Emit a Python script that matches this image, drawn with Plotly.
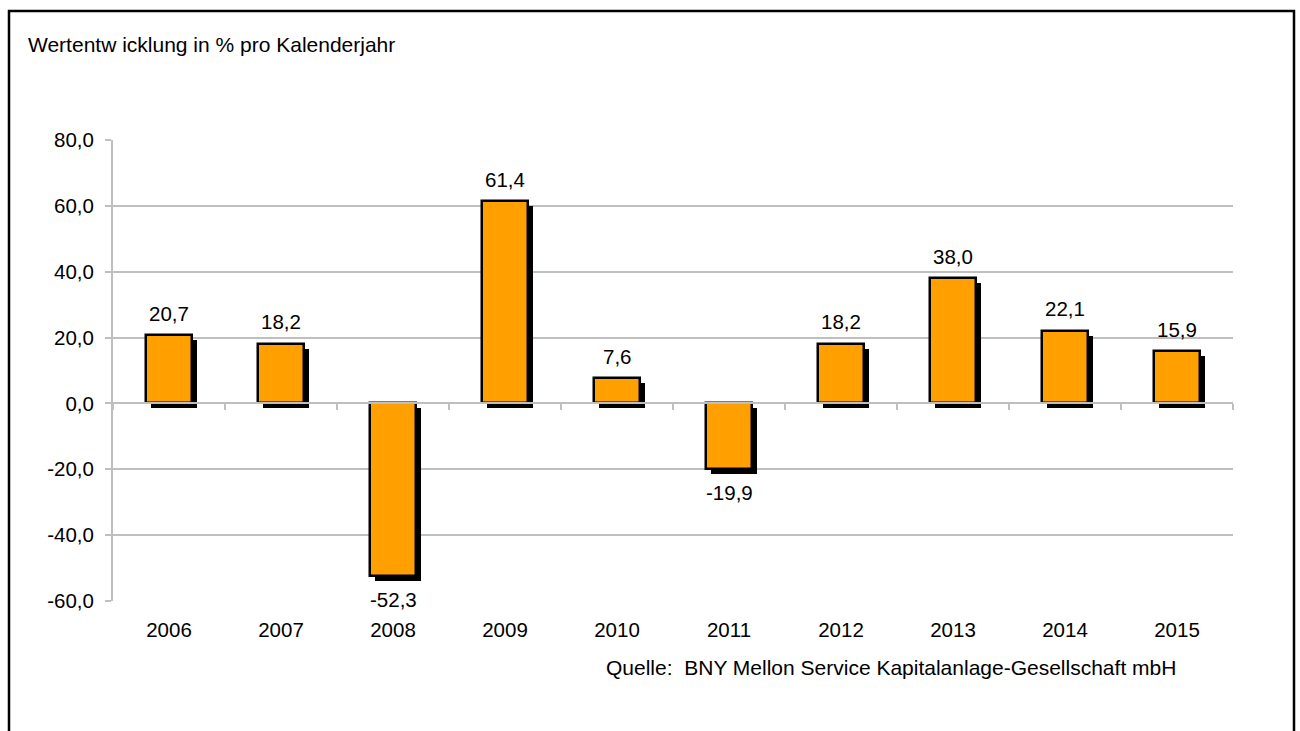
import plotly.graph_objects as go

years = ["2006", "2007", "2008", "2009", "2010", "2011", "2012", "2013", "2014", "2015"]
values = [20.7, 18.2, -52.3, 61.4, 7.6, -19.9, 18.2, 38.0, 22.1, 15.9]
y_ticks = [-60, -40, -20, 0, 20, 40, 60, 80]

title_text = "Wertentw icklung in % pro Kalenderjahr"
source_text = "Quelle:  BNY Mellon Service Kapitalanlage-Gesellschaft mbH"

W, H = 1300, 731
ML, MR, MT, MB = 113, 67, 140, 130
PW, PH = W - ML - MR, H - MT - MB
YMIN, YMAX = -60, 80

FONT = "Liberation Sans, Arial, sans-serif"
FS = 20.5
FS_TXT = 21
ORANGE = "#FF9F00"
GRID = "#BFBFBF"


def de(v):
    return f"{v:.1f}".replace(".", ",")


bar_w = 0.41
shadow_dx = 5 / PW * len(years)            # 5 px in category units
shadow_dy = 5 / PH * (YMAX - YMIN)         # 5 px in data units

fig = go.Figure()

# shadow
fig.add_trace(go.Bar(
    x=years, y=values, base=[-shadow_dy] * len(values),
    width=bar_w, offset=-bar_w / 2 + shadow_dx,
    marker=dict(color="#000000", line=dict(width=0)),
    hoverinfo="skip", showlegend=False,
))
# main bars
fig.add_trace(go.Bar(
    x=years, y=values,
    width=bar_w, offset=-bar_w / 2,
    marker=dict(color=ORANGE, line=dict(color="#000000", width=2.5)),
    showlegend=False,
))
# invisible trace for zero-line tick axis
fig.add_trace(go.Scatter(x=[-0.5, 9.5], y=[0, 0], xaxis="x2", mode="lines",
                         line=dict(width=0), hoverinfo="skip", showlegend=False))

annotations = []
for i, v in enumerate(values):
    annotations.append(dict(
        x=i, y=v, xref="x", yref="y",
        text=de(v),
        showarrow=False, yshift=22 if v >= 0 else -24,
        font=dict(family=FONT, size=FS, color="#000000"),
        xanchor="center", yanchor="middle",
    ))
annotations.append(dict(
    x=(1178 - ML) / PW, y=(H - MB - 667) / PH, xref="paper", yref="paper",
    text=source_text, showarrow=False, xanchor="right", yanchor="middle",
    font=dict(family=FONT, size=FS_TXT, color="#000000"),
))

fig.update_layout(
    width=W, height=H,
    margin=dict(l=ML, r=MR, t=MT, b=MB),
    paper_bgcolor="white", plot_bgcolor="white",
    barmode="overlay",
    bargap=0,
    title=dict(text=title_text, x=28 / W, y=1 - 45 / H, xref="container", yref="container",
               xanchor="left", yanchor="middle",
               font=dict(family=FONT, size=FS_TXT, color="#000000")),
    xaxis=dict(
        type="category", range=[-0.5, 9.5],
        showgrid=False, zeroline=False, showline=False, ticks="",
        tickfont=dict(family=FONT, size=FS, color="#000000"),
        ticklabelstandoff=14,
    ),
    xaxis2=dict(
        overlaying="x", anchor="free", position=(0 - YMIN) / (YMAX - YMIN),
        range=[-0.5, 9.5], showgrid=False, zeroline=False,
        showline=True, linecolor=GRID, linewidth=2,
        ticks="outside", ticklen=6, tickcolor=GRID, tickwidth=2,
        tickvals=[i - 0.5 for i in range(len(years) + 1)],
        showticklabels=False,
    ),
    yaxis=dict(
        range=[YMIN, YMAX], tickvals=y_ticks, ticktext=[de(t) for t in y_ticks],
        showgrid=True, gridcolor=GRID, gridwidth=2,
        zeroline=False,
        showline=True, linecolor=GRID, linewidth=2,
        ticks="outside", ticklen=6, tickcolor=GRID, tickwidth=2,
        tickfont=dict(family=FONT, size=FS, color="#000000"),
        ticklabelstandoff=7,
    ),
    annotations=annotations,
    shapes=[dict(
        type="rect", xref="paper", yref="paper",
        x0=(9 - ML) / PW, x1=(1294 - ML) / PW,
        y0=(H - MB - 760) / PH, y1=(H - MB - 11) / PH,
        line=dict(color="#000000", width=2.5), fillcolor="rgba(0,0,0,0)", layer="above",
    )],
)

fig.write_html("out.html", config={"displayModeBar": False},
               post_script="document.body.style.margin='0';")
